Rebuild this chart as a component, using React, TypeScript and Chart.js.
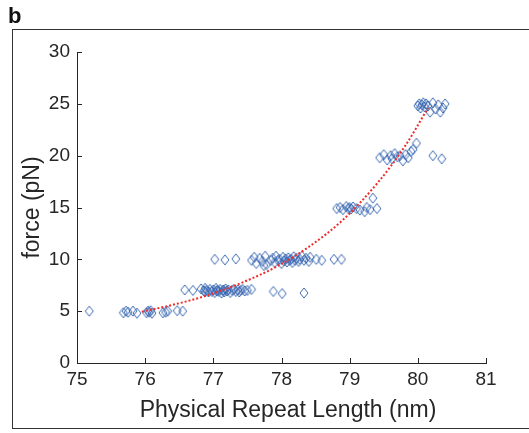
import React, { useEffect, useRef } from 'react';
import { Chart, registerables } from 'chart.js';

Chart.register(...registerables);

// Plateau at ~5 pN
const plateau5Length = [75.18, 75.68, 75.72, 75.75, 75.82, 75.88, 76.02, 76.04, 76.06, 76.08, 76.1, 76.26, 76.3, 76.33, 76.47, 76.55];
const plateau5Force = [5.0, 4.85, 5.0, 4.9, 5.0, 4.8, 4.85, 5.0, 4.9, 5.05, 4.8, 4.85, 4.9, 5.0, 5.05, 5.0];

// Plateau at ~7 pN
const plateau7Length = [76.58, 76.7, 76.82, 76.86, 76.88, 76.88, 76.9, 76.93, 76.95, 76.98, 77.0, 77.02, 77.04, 77.05, 77.06, 77.08, 77.1, 77.12, 77.14, 77.15, 77.16, 77.18, 77.2, 77.22, 77.25, 77.28, 77.3, 77.33, 77.36, 77.38, 77.4, 77.43, 77.46, 77.5, 77.56, 77.88, 78.01, 78.33];
const plateau7Force = [7.05, 7.0, 7.15, 6.95, 7.2, 6.9, 7.0, 6.85, 7.1, 6.9, 7.05, 6.8, 7.2, 6.95, 7.0, 6.9, 7.1, 6.75, 7.0, 7.05, 6.85, 7.15, 6.95, 7.05, 6.8, 7.0, 7.1, 6.9, 7.05, 6.85, 7.0, 7.1, 6.95, 7.0, 7.1, 6.9, 6.7, 6.75];

// Plateau at ~10 pN
const plateau10Length = [77.02, 77.17, 77.33, 77.56, 77.6, 77.63, 77.68, 77.72, 77.74, 77.76, 77.78, 77.84, 77.87, 77.9, 77.92, 77.95, 77.97, 78.0, 78.02, 78.04, 78.06, 78.08, 78.1, 78.12, 78.14, 78.16, 78.18, 78.2, 78.22, 78.25, 78.27, 78.3, 78.33, 78.36, 78.4, 78.42, 78.51, 78.59, 78.77, 78.88];
const plateau10Force = [10.0, 9.95, 10.05, 9.9, 10.2, 9.6, 10.1, 9.8, 9.4, 10.3, 9.5, 9.9, 10.1, 9.7, 10.3, 9.9, 10.0, 9.6, 10.2, 9.85, 10.05, 9.75, 10.15, 9.9, 10.0, 9.7, 10.25, 9.9, 10.1, 9.8, 10.0, 10.3, 9.9, 10.1, 9.8, 10.2, 10.0, 9.9, 10.0, 10.0];

// Plateau at ~15 pN
const plateau15Length = [78.81, 78.86, 78.9, 78.95, 78.98, 79.0, 79.02, 79.05, 79.1, 79.15, 79.22, 79.25, 79.3, 79.34, 79.4];
const plateau15Force = [14.9, 15.0, 14.8, 15.1, 14.9, 15.0, 14.85, 15.05, 14.9, 14.75, 14.6, 15.0, 14.8, 15.9, 14.9];

// Plateau at ~20 pN
const plateau20Length = [79.44, 79.5, 79.55, 79.6, 79.62, 79.66, 79.7, 79.74, 79.78, 79.82, 79.86, 79.9, 79.93, 79.98, 80.22, 80.35];
const plateau20Force = [19.8, 20.1, 19.6, 20.0, 19.7, 20.2, 19.9, 20.0, 19.5, 20.1, 19.8, 20.4, 20.6, 21.2, 20.0, 19.7];

// Plateau at ~25 pN
const plateau25Length = [80.0, 80.02, 80.04, 80.06, 80.08, 80.1, 80.12, 80.15, 80.18, 80.22, 80.26, 80.3, 80.33, 80.37, 80.4];
const plateau25Force = [24.8, 25.0, 24.6, 24.9, 25.1, 24.7, 25.0, 24.8, 24.2, 25.1, 24.5, 24.9, 24.2, 24.6, 25.0];

// Fitted curve
const fitLength = [75.95, 76.4, 76.9, 77.4, 77.9, 78.4, 78.9, 79.4, 79.8, 80.15];
const fitForce = [4.95, 5.6, 6.5, 7.7, 9.2, 11.2, 13.8, 17.3, 20.8, 24.6];

const xTicks = [75, 76, 77, 78, 79, 80, 81];
const yTicks = [0, 5, 10, 15, 20, 25, 30];

const xLabel = 'Physical Repeat Length (nm)';
const yLabel = 'force (pN)';

const AXIS_COLOR = '#262626';
const MARKER_COLOR = '#3a68b2';
const FIT_COLOR = '#f02a2a';
const FONT = 'Arial, "Liberation Sans", Helvetica, sans-serif';

function zipPoints(xs: number[], ys: number[]) {
  return xs.map((x, i) => ({ x, y: ys[i] }));
}

function makeDiamond(): HTMLCanvasElement {
  const c = document.createElement('canvas');
  c.width = 10;
  c.height = 12;
  const g = c.getContext('2d')!;
  g.strokeStyle = MARKER_COLOR;
  g.lineWidth = 1;
  g.beginPath();
  g.moveTo(5, 1);
  g.lineTo(9, 6);
  g.lineTo(5, 11);
  g.lineTo(1, 6);
  g.closePath();
  g.stroke();
  return c;
}

const inwardTicks = {
  id: 'inwardTicks',
  afterDraw(chart: any) {
    const { ctx, scales } = chart;
    const x = scales.x;
    const y = scales.y;
    ctx.save();
    ctx.strokeStyle = AXIS_COLOR;
    ctx.lineWidth = 1;
    ctx.beginPath();
    xTicks.forEach((v) => {
      const px = Math.round(x.getPixelForValue(v)) + 0.5;
      ctx.moveTo(px, y.bottom);
      ctx.lineTo(px, y.bottom - 5);
    });
    yTicks.forEach((v) => {
      const py = Math.round(y.getPixelForValue(v)) + 0.5;
      ctx.moveTo(x.left, py);
      ctx.lineTo(x.left + 5, py);
    });
    ctx.stroke();
    ctx.restore();
  },
};

export default function App() {
  const ref = useRef<HTMLCanvasElement | null>(null);

  useEffect(() => {
    if (!ref.current) return;
    const diamond = makeDiamond();
    const markerSet = (xs: number[], ys: number[]) => ({
      type: 'scatter' as const,
      data: zipPoints(xs, ys),
      pointStyle: diamond,
      pointRadius: 5,
      showLine: false,
      order: 2,
    });
    const chart = new Chart(ref.current, {
      type: 'scatter',
      data: {
        datasets: [
          {
            type: 'line',
            data: zipPoints(fitLength, fitForce),
            borderColor: FIT_COLOR,
            borderWidth: 2,
            borderDash: [2, 2],
            pointRadius: 0,
            tension: 0.4,
            cubicInterpolationMode: 'monotone',
            fill: false,
            order: 1,
          } as any,
          markerSet(plateau5Length, plateau5Force),
          markerSet(plateau7Length, plateau7Force),
          markerSet(plateau10Length, plateau10Force),
          markerSet(plateau15Length, plateau15Force),
          markerSet(plateau20Length, plateau20Force),
          markerSet(plateau25Length, plateau25Force),
        ],
      },
      options: {
        animation: false,
        responsive: false,
        maintainAspectRatio: false,
        layout: { padding: { left: 0, right: 43, top: 52, bottom: 0 } },
        plugins: { legend: { display: false }, tooltip: { enabled: false } },
        scales: {
          x: {
            type: 'linear',
            min: 75,
            max: 81,
            afterBuildTicks: (s: any) => {
              s.ticks = xTicks.map((v) => ({ value: v }));
            },
            afterFit: (s: any) => {
              s.height = 70;
            },
            ticks: { color: AXIS_COLOR, font: { family: FONT, size: 19 }, padding: 5 },
            grid: { display: false, drawTicks: false },
            border: { display: true, color: AXIS_COLOR, width: 1 },
            title: { display: false },
          },
          y: {
            type: 'linear',
            min: 0,
            max: 30,
            afterBuildTicks: (s: any) => {
              s.ticks = yTicks.map((v) => ({ value: v }));
            },
            afterFit: (s: any) => {
              s.width = 77;
            },
            ticks: { color: AXIS_COLOR, font: { family: FONT, size: 19 }, padding: 7 },
            grid: { display: false, drawTicks: false },
            border: { display: true, color: AXIS_COLOR, width: 1 },
            title: {
              display: true,
              text: yLabel,
              color: AXIS_COLOR,
              font: { family: FONT, size: 23 },
              padding: { top: 19, bottom: 0 },
            },
          },
        },
      },
      plugins: [inwardTicks],
    });
    return () => chart.destroy();
  }, []);

  return (
    <div
      style={{
        position: 'fixed',
        left: 0,
        top: 0,
        width: 529,
        height: 433,
        overflow: 'hidden',
        background: '#fff',
      }}
    >
      <canvas ref={ref} width={529} height={433} style={{ position: 'absolute', left: 0, top: 0, width: 529, height: 433 }} />
      <div
        style={{
          position: 'absolute',
          left: 88,
          width: 400,
          top: 395,
          textAlign: 'center',
          fontFamily: FONT,
          fontSize: 23,
          lineHeight: '28px',
          color: AXIS_COLOR,
          whiteSpace: 'nowrap',
        }}
      >
        {xLabel}
      </div>
      <div
        style={{
          position: 'absolute',
          left: 12,
          top: 29,
          width: 600,
          height: 398,
          border: '1.5px solid #333',
          pointerEvents: 'none',
        }}
      />
      <div
        style={{
          position: 'absolute',
          left: 8,
          top: 3,
          fontFamily: FONT,
          fontWeight: 'bold',
          fontSize: 22,
          lineHeight: '26px',
          color: '#111',
        }}
      >
        b
      </div>
    </div>
  );
}
